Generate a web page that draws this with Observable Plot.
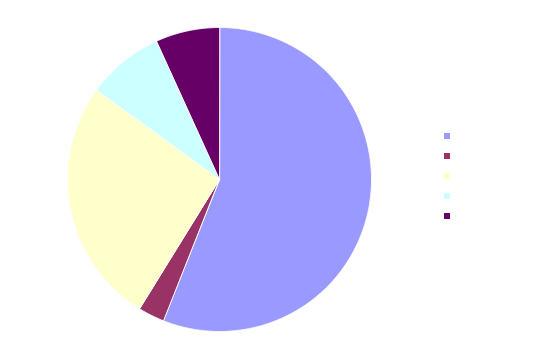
<!DOCTYPE html>
<html><head><meta charset="utf-8">
<script src="https://cdn.jsdelivr.net/npm/d3@7"></script>
<script src="https://cdn.jsdelivr.net/npm/@observablehq/plot@0.6"></script>
<style>
body{margin:0;background:#fff;font-family:"Liberation Sans",Arial,sans-serif}
#wrap{position:relative;width:552px;height:351px;overflow:hidden}
.sw{position:absolute;left:444px;width:6px;height:6px}
</style>
</head><body>
<div id="wrap"></div>
<script>
const categories = ["A", "B", "C", "D", "E"];
const values = [56.0, 2.8, 26.2, 8.2, 6.8];
const colors = ["#9999FF", "#993366", "#FFFFCC", "#CCFFFF", "#660066"];

const slices = d3.pie().sort(null).value(d => d.value)(
  categories.map((c, i) => ({category: c, value: values[i]}))
);
const pts = [];
for (const s of slices) {
  const n = Math.max(2, Math.ceil((s.endAngle - s.startAngle) / 0.005));
  pts.push({category: s.data.category, x: 0, y: 0});
  for (let k = 0; k <= n; k++) {
    const a = s.startAngle + (s.endAngle - s.startAngle) * k / n;
    pts.push({category: s.data.category, x: Math.sin(a), y: Math.cos(a)});
  }
}

const chart = Plot.plot({
  width: 552,
  height: 351,
  margin: 0,
  x: {domain: [-1, 1], range: [67, 371], axis: null},
  y: {domain: [-1, 1], range: [331, 27], axis: null},
  color: {domain: categories, range: colors},
  marks: [
    Plot.line(pts, {x: "x", y: "y", z: "category", fill: "category", stroke: "white", strokeWidth: 1, curve: "linear-closed"})
  ]
});
const wrap = document.getElementById("wrap");
wrap.appendChild(chart);

categories.forEach((c, i) => {
  const sw = document.createElement("div");
  sw.className = "sw";
  sw.style.top = (133 + 20 * i) + "px";
  sw.style.background = colors[i];
  sw.title = c;
  wrap.appendChild(sw);
});
</script>
</body></html>
